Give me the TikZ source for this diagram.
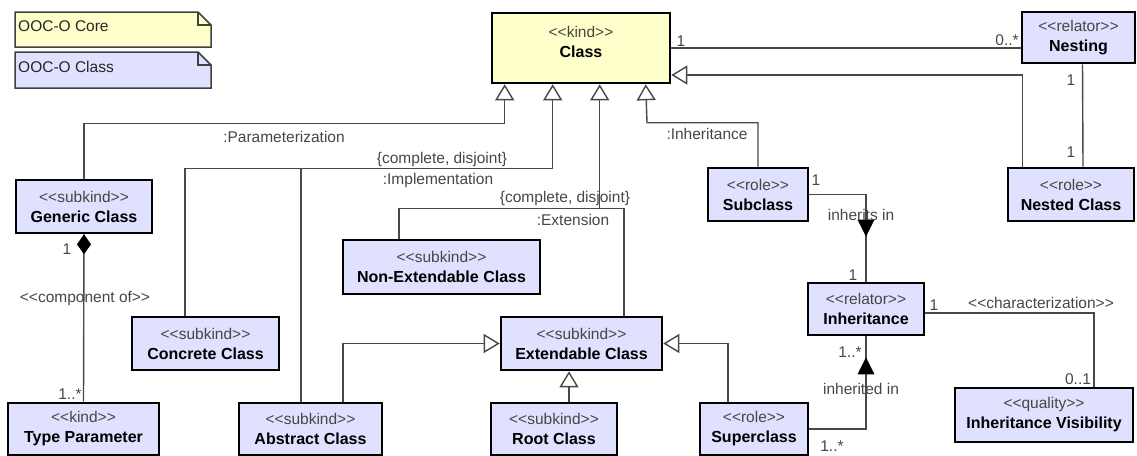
\documentclass[tikz,border=0pt]{standalone}
\usepackage{fontspec}
\setmainfont{Liberation Sans}
\usetikzlibrary{arrows.meta,calc}
\definecolor{coreyel}{RGB}{255,255,204}
\definecolor{lav}{RGB}{224,224,255}
\definecolor{wire}{RGB}{72,72,72}
\definecolor{stereo}{RGB}{70,70,70}
\definecolor{notedge}{RGB}{64,64,64}
\newcommand{\stname}[2]{{\color{stereo}<{}<#1>{}>}\\{\fontsize{16}{20}\selectfont\bfseries #2}}
\begin{document}
\begin{tikzpicture}[x=1pt,y=-1pt,
  txt/.style={font=\fontsize{15.5}{20}\selectfont},
  cls/.style={txt, draw=black, line width=2.6pt, fill=lav, rectangle, inner sep=0pt, align=center},
  wirestyle/.style={draw=wire, line width=1.4pt},
  gen/.style={wirestyle, -{Triangle[open, length=16pt, width=19pt, fill=white]}},
  lbl/.style={txt, text=stereo, inner sep=0pt},
  notebox/.style={draw=notedge, line width=1.5pt, line join=miter}]
\useasboundingbox (0,0) rectangle (1137,455);

% package notes
\draw[notebox, fill=coreyel] (15,12) -- (198,12) -- (211,25) -- (211,47) -- (15,47) -- cycle;
\draw[notebox] (198,12) -- (198,25) -- (211,25);
\node[txt, text=black!85, anchor=west, inner sep=0pt] (notecore) at (18,26) {OOC-O Core};
\draw[notebox, fill=lav] (15,52) -- (198,52) -- (211,65) -- (211,88) -- (15,88) -- cycle;
\draw[notebox] (198,52) -- (198,65) -- (211,65);
\node[txt, text=black!85, anchor=west, inner sep=0pt] (noteclass) at (18,67) {OOC-O Class};

% classes
\node[cls, fill=coreyel, minimum width=178pt, minimum height=70pt] (class) at (581,48) {};
\node[txt, align=center, inner sep=0pt] (classtext) at (581,42) {\stname{kind}{Class}};
\node[cls, minimum width=113pt, minimum height=51pt] (nesting) at (1078.5,37.5) {\stname{relator}{Nesting}};
\node[cls, minimum width=126pt, minimum height=53pt] (nested) at (1071,194.5) {\stname{role}{Nested Class}};
\node[cls, minimum width=100pt, minimum height=53pt] (subclass) at (758,194.5) {\stname{role}{Subclass}};
\node[cls, minimum width=136pt, minimum height=53pt] (generic) at (84,206.5) {\stname{subkind}{Generic Class}};
\node[cls, minimum width=197pt, minimum height=54pt] (nonext) at (441.5,267) {\stname{subkind}{Non-Extendable Class}};
\node[cls, minimum width=147pt, minimum height=53pt] (concrete) at (205.5,343.5) {\stname{subkind}{Concrete Class}};
\node[cls, minimum width=161pt, minimum height=53pt] (extendable) at (581.5,343.5) {\stname{subkind}{Extendable Class}};
\node[cls, minimum width=116pt, minimum height=52pt] (inheritance) at (866,309) {\stname{relator}{Inheritance}};
\node[cls, minimum width=151pt, minimum height=52pt] (typeparam) at (83.5,429) {\stname{kind}{Type Parameter}};
\node[cls, minimum width=143pt, minimum height=52pt] (abstract) at (310.5,429) {\stname{subkind}{Abstract Class}};
\node[cls, minimum width=126pt, minimum height=52pt] (root) at (554,429) {\stname{subkind}{Root Class}};
\node[cls, minimum width=108pt, minimum height=52pt] (superclass) at (754,429) {\stname{role}{Superclass}};
\node[cls, minimum width=178pt, minimum height=54pt] (visibility) at (1044,415) {\stname{quality}{Inheritance Visibility}};

% Class -- Nesting
\draw[wirestyle] (class.east) -- (class.east -| nesting.west);
\node[lbl] (m1) at (681,41) {1};
\node[lbl] (m2) at (1007,40) {0..*};
\draw[wirestyle] ([xshift=4]nesting.south) -- ([xshift=12]nested.north);
\node[lbl] (m3) at (1071,80) {1};
\node[lbl] (m4) at (1071,152) {1};
\draw[gen] ([xshift=16]nested.north west) |- ([yshift=-27]class.east);

% generalizations into Class
\draw[gen] (generic.north) -- ++(0,-55) -| ([xshift=14]class.south west);
\node[lbl] (lparam) at (284,137) {:Parameterization};

\path ([xshift=62]class.south west) ++(0,84) coordinate (impl);
\draw[gen] (impl) -- ([xshift=62]class.south west);
\draw[wirestyle] ([xshift=-20.5]concrete.north) |- (impl);
\draw[wirestyle] ([xshift=-9.5]abstract.north) |- (impl);
\node[lbl] (cd1) at (442,159) {\{complete, disjoint\}};
\node[lbl] (limpl) at (438,180) {:Implementation};

\path ([xshift=109]class.south west) ++(0,124) coordinate (ext);
\draw[gen] (ext) -- ([xshift=109]class.south west);
\draw[wirestyle] ([xshift=-42.5]nonext.north) |- ([xshift=42.5]extendable.north |- ext) -- ([xshift=42.5]extendable.north);
\node[lbl] (cd2) at (565,198) {\{complete, disjoint\}};
\node[lbl] (lext) at (573,220) {:Extension};

\draw[gen] (subclass.north) |- ++(-111,-44) -- ([xshift=155]class.south west);
\node[lbl] (linh) at (707,134) {:Inheritance};

% generalizations into Extendable Class
\draw[gen] ([xshift=32.5]abstract.north) |- (extendable.west);
\draw[gen] ([xshift=15]root.north) -- ([xshift=-12.5]extendable.south);
\draw[gen] ([xshift=-26]superclass.north) |- (extendable.east);

% Generic Class -- Type Parameter
\draw[wirestyle] (generic.south) -- (typeparam.north);
\fill[black] (generic.south) -- ++(7,10) -- ++(-7,10) -- ++(-7,-10) -- cycle;
\node[lbl] (m5) at (67,249) {1};
\node[lbl] (lcomp) at (85,298) {<{}<component of>{}>};
\node[lbl] (m6) at (70,394) {1..*};

% Subclass -- Inheritance
\draw[wirestyle] (subclass.east) -| (inheritance.north);
\fill[black] ($(inheritance.north)+(-8.5,-62)$) -- ($(inheritance.north)+(8.5,-62)$) -- ($(inheritance.north)+(0,-45)$) -- cycle;
\node[lbl] (m7) at (816,180) {1};
\node[lbl] (linhin) at (861,215) {inherits in};
\node[lbl] (m8) at (853,275) {1};

% Superclass -- Inheritance
\draw[wirestyle] (superclass.east) -| (inheritance.south);
\fill[black] ($(inheritance.south)+(-8.5,38)$) -- ($(inheritance.south)+(8.5,38)$) -- ($(inheritance.south)+(0,21)$) -- cycle;
\node[lbl] (m9) at (850,352) {1..*};
\node[lbl] (linhd) at (861,389) {inherited in};
\node[lbl] (m10) at (832,446) {1..*};

% Inheritance -- Inheritance Visibility
\draw[wirestyle] ([yshift=-4]inheritance.east) -| ([xshift=50]visibility.north);
\node[lbl] (m11) at (934,305) {1};
\node[lbl] (lchar) at (1041,303) {<{}<characterization>{}>};
\node[lbl] (m12) at (1078,379) {0..1};
\end{tikzpicture}
\end{document}
